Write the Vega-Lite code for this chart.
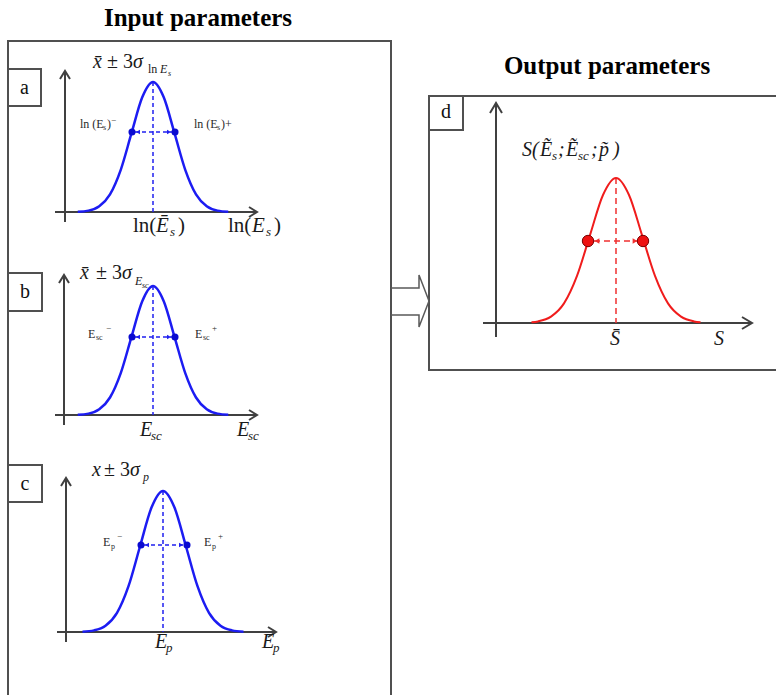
{
  "$schema": "https://vega.github.io/schema/vega-lite/v6.json",
  "width": 777,
  "height": 696,
  "autosize": {"type": "fit", "contains": "padding"},
  "padding": 0,
  "background": "white",
  "config": {"view": {"stroke": null}},
  "datasets": {
    "frames": [
      {"id": "outer", "k": 1, "x": 8, "y": 695}, {"id": "outer", "k": 2, "x": 8, "y": 41}, {"id": "outer", "k": 3, "x": 391, "y": 41}, {"id": "outer", "k": 4, "x": 391, "y": 695},
      {"id": "d", "k": 1, "x": 776, "y": 96}, {"id": "d", "k": 2, "x": 429, "y": 96}, {"id": "d", "k": 3, "x": 429, "y": 370}, {"id": "d", "k": 4, "x": 776, "y": 370}
    ],
    "boxes": [
      {"id": "la", "x": 8, "x2": 41, "y": 69, "y2": 106},
      {"id": "lb", "x": 8, "x2": 42, "y": 273, "y2": 311},
      {"id": "lc", "x": 8, "x2": 42, "y": 465, "y2": 502},
      {"id": "ld", "x": 429, "x2": 463, "y": 96, "y2": 130}
    ],
    "axes": [
      {"x": 65, "x2": 65, "y": 71, "y2": 222},
      {"x": 55, "x2": 257, "y": 212, "y2": 212},
      {"x": 64, "x2": 64, "y": 275, "y2": 425},
      {"x": 55, "x2": 257, "y": 415, "y2": 415},
      {"x": 66, "x2": 66, "y": 478, "y2": 642},
      {"x": 57, "x2": 276, "y": 632, "y2": 632},
      {"x": 496, "x2": 496, "y": 103, "y2": 337},
      {"x": 483, "x2": 752, "y": 323, "y2": 323}
    ],
    "heads": [
      {"id": "ay", "k": 1, "x": 60, "y": 79}, {"id": "ay", "k": 2, "x": 65, "y": 71}, {"id": "ay", "k": 3, "x": 70, "y": 79},
      {"id": "ax", "k": 1, "x": 249, "y": 207}, {"id": "ax", "k": 2, "x": 257, "y": 212}, {"id": "ax", "k": 3, "x": 249, "y": 217},
      {"id": "by", "k": 1, "x": 59, "y": 283}, {"id": "by", "k": 2, "x": 64, "y": 275}, {"id": "by", "k": 3, "x": 69, "y": 283},
      {"id": "bx", "k": 1, "x": 249, "y": 410}, {"id": "bx", "k": 2, "x": 257, "y": 415}, {"id": "bx", "k": 3, "x": 249, "y": 420},
      {"id": "cy", "k": 1, "x": 61, "y": 486}, {"id": "cy", "k": 2, "x": 66, "y": 478}, {"id": "cy", "k": 3, "x": 71, "y": 486},
      {"id": "cx", "k": 1, "x": 268, "y": 627}, {"id": "cx", "k": 2, "x": 276, "y": 632}, {"id": "cx", "k": 3, "x": 268, "y": 637},
      {"id": "dy", "k": 1, "x": 490, "y": 113}, {"id": "dy", "k": 2, "x": 496, "y": 103}, {"id": "dy", "k": 3, "x": 502, "y": 113},
      {"id": "dx", "k": 1, "x": 742, "y": 317}, {"id": "dx", "k": 2, "x": 752, "y": 323}, {"id": "dx", "k": 3, "x": 742, "y": 329}
    ],
    "block": [
      {"k": 1, "x": 391, "y": 288}, {"k": 2, "x": 419, "y": 288}, {"k": 3, "x": 419, "y": 275},
      {"k": 4, "x": 429, "y": 301}, {"k": 5, "x": 419, "y": 327}, {"k": 6, "x": 419, "y": 315},
      {"k": 7, "x": 391, "y": 315}
    ],
    "bluecurves": [
      {"c": "a", "x": 77.75, "y": 211.7}, {"c": "a", "x": 88.5, "y": 210.6}, {"c": "a", "x": 99.25, "y": 206.3}, {"c": "a", "x": 110, "y": 194.4}, {"c": "a", "x": 120.75, "y": 169.8}, {"c": "a", "x": 131.5, "y": 133.2}, {"c": "a", "x": 142.25, "y": 97.3}, {"c": "a", "x": 153, "y": 82}, {"c": "a", "x": 163.75, "y": 97.3}, {"c": "a", "x": 174.5, "y": 133.2}, {"c": "a", "x": 185.25, "y": 169.8}, {"c": "a", "x": 196, "y": 194.4}, {"c": "a", "x": 206.75, "y": 206.3}, {"c": "a", "x": 217.5, "y": 210.6}, {"c": "a", "x": 228.25, "y": 211.7},
      {"c": "b", "x": 77.75, "y": 414.7}, {"c": "b", "x": 88.5, "y": 413.6}, {"c": "b", "x": 99.25, "y": 409.3}, {"c": "b", "x": 110, "y": 397.5}, {"c": "b", "x": 120.75, "y": 373.1}, {"c": "b", "x": 131.5, "y": 336.8}, {"c": "b", "x": 142.25, "y": 301.2}, {"c": "b", "x": 153, "y": 286}, {"c": "b", "x": 163.75, "y": 301.2}, {"c": "b", "x": 174.5, "y": 336.8}, {"c": "b", "x": 185.25, "y": 373.1}, {"c": "b", "x": 196, "y": 397.5}, {"c": "b", "x": 206.75, "y": 409.3}, {"c": "b", "x": 217.5, "y": 413.6}, {"c": "b", "x": 228.25, "y": 414.7},
      {"c": "c", "x": 82.5, "y": 631.7}, {"c": "c", "x": 94, "y": 630.4}, {"c": "c", "x": 105.5, "y": 625.8}, {"c": "c", "x": 117, "y": 612.9}, {"c": "c", "x": 128.5, "y": 586.2}, {"c": "c", "x": 140, "y": 546.5}, {"c": "c", "x": 151.5, "y": 507.6}, {"c": "c", "x": 163, "y": 491}, {"c": "c", "x": 174.5, "y": 507.6}, {"c": "c", "x": 186, "y": 546.5}, {"c": "c", "x": 197.5, "y": 586.2}, {"c": "c", "x": 209, "y": 612.9}, {"c": "c", "x": 220.5, "y": 625.8}, {"c": "c", "x": 232, "y": 630.4}, {"c": "c", "x": 243.5, "y": 631.7}
    ],
    "redcurve": [
      {"x": 531.5, "y": 322.3}, {"x": 538, "y": 321.4}, {"x": 551, "y": 316.6}, {"x": 564, "y": 303.4}, {"x": 577, "y": 275.9}, {"x": 590, "y": 235.1}, {"x": 603, "y": 195}, {"x": 616, "y": 178}, {"x": 629, "y": 195}, {"x": 642, "y": 235.1}, {"x": 655, "y": 275.9}, {"x": 668, "y": 303.4}, {"x": 681, "y": 316.6}, {"x": 694, "y": 321.4}, {"x": 700.5, "y": 322.3}
    ],
    "bluedash": [
      {"x": 153, "x2": 153, "y": 82, "y2": 212},
      {"x": 153, "x2": 153, "y": 286, "y2": 415},
      {"x": 163, "x2": 163, "y": 491, "y2": 632},
      {"x": 135, "x2": 172, "y": 132, "y2": 132},
      {"x": 135, "x2": 172, "y": 337, "y2": 337},
      {"x": 144, "x2": 184, "y": 545, "y2": 545}
    ],
    "reddash": [
      {"x": 616, "x2": 616, "y": 178, "y2": 323},
      {"x": 594, "x2": 638, "y": 241, "y2": 241}
    ],
    "bluetri": [
      {"d": "l", "x": 138, "y": 132}, {"d": "r", "x": 169, "y": 132},
      {"d": "l", "x": 138, "y": 337}, {"d": "r", "x": 169, "y": 337},
      {"d": "l", "x": 147, "y": 545}, {"d": "r", "x": 181, "y": 545}
    ],
    "redtri": [
      {"d": "l", "x": 597, "y": 241}, {"d": "r", "x": 635, "y": 241}
    ],
    "bluedots": [
      {"x": 132, "y": 132}, {"x": 175, "y": 132},
      {"x": 132, "y": 337}, {"x": 175, "y": 337},
      {"x": 141, "y": 545}, {"x": 187, "y": 545}
    ],
    "reddots": [
      {"x": 588, "y": 241}, {"x": 643, "y": 241}
    ],
    "titles": [
      {"t": "Input parameters", "x": 198, "y": 18},
      {"t": "Output parameters", "x": 607, "y": 66}
    ],
    "letters": [
      {"t": "a", "x": 24.5, "y": 88},
      {"t": "b", "x": 25, "y": 292},
      {"t": "c", "x": 25, "y": 484},
      {"t": "d", "x": 446, "y": 112}
    ],
    "up21": [
      {"t": "ln(", "x": 133, "y": 232}, {"t": ")", "x": 178, "y": 232},
      {"t": "ln(", "x": 228, "y": 232}, {"t": ")", "x": 274, "y": 232}
    ],
    "up20": [
      {"t": "± 3", "x": 107, "y": 68},
      {"t": "± 3", "x": 96, "y": 279},
      {"t": "± 3", "x": 104, "y": 476}
    ],
    "it20": [
      {"t": "x̄", "x": 93, "y": 68}, {"t": "σ", "x": 133, "y": 68},
      {"t": "x̄", "x": 80, "y": 279}, {"t": "σ", "x": 122, "y": 279},
      {"t": "x", "x": 92, "y": 476}, {"t": "σ", "x": 130, "y": 476},
      {"t": "E", "x": 140, "y": 436}, {"t": "E", "x": 237, "y": 436},
      {"t": "E", "x": 155, "y": 648}, {"t": "E", "x": 262, "y": 648},
      {"t": "S̄", "x": 610, "y": 345}, {"t": "S", "x": 714, "y": 345},
      {"t": "S(", "x": 522, "y": 156}, {"t": "Ẽ", "x": 540, "y": 156},
      {"t": ";", "x": 558, "y": 156}, {"t": "Ẽ", "x": 566, "y": 156},
      {"t": ";", "x": 591, "y": 156}, {"t": "p̃", "x": 599, "y": 156},
      {"t": ")", "x": 613, "y": 156}
    ],
    "it21": [
      {"t": "Ē", "x": 156, "y": 232}, {"t": "E", "x": 252, "y": 232}
    ],
    "sub13": [
      {"t": "s", "x": 170, "y": 236}, {"t": "s", "x": 266, "y": 236},
      {"t": "sc", "x": 151, "y": 440}, {"t": "sc", "x": 248, "y": 440},
      {"t": "p", "x": 166, "y": 652}, {"t": "p", "x": 273, "y": 652},
      {"t": "s", "x": 552, "y": 160}, {"t": "sc", "x": 578, "y": 160}
    ],
    "up12": [
      {"t": "ln", "x": 148, "y": 73}
    ],
    "it12": [
      {"t": "E", "x": 160, "y": 73},
      {"t": "E", "x": 135, "y": 285},
      {"t": "p", "x": 143, "y": 481}
    ],
    "tiny8": [
      {"t": "s", "x": 168, "y": 76},
      {"t": "sc", "x": 142, "y": 288}
    ],
    "dotlab": [
      {"t": "ln (E", "x": 80, "y": 128}, {"t": ")", "x": 107, "y": 128},
      {"t": "ln (E", "x": 194, "y": 128}, {"t": ")+", "x": 221, "y": 128},
      {"t": "E", "x": 88, "y": 338}, {"t": "E", "x": 195, "y": 338},
      {"t": "E", "x": 103, "y": 546}, {"t": "E", "x": 204, "y": 546}
    ],
    "dotsub": [
      {"t": "s", "x": 103, "y": 130}, {"t": "s", "x": 217, "y": 130},
      {"t": "sc", "x": 96, "y": 340}, {"t": "sc", "x": 203, "y": 340},
      {"t": "p", "x": 111, "y": 549}, {"t": "p", "x": 212, "y": 549}
    ],
    "dotsup": [
      {"t": "−", "x": 111, "y": 123},
      {"t": "−", "x": 106, "y": 331}, {"t": "+", "x": 212, "y": 331},
      {"t": "−", "x": 117, "y": 539}, {"t": "+", "x": 218, "y": 539}
    ]
  },
  "layer": [
    {
      "data": {"name": "frames"},
      "mark": {"type": "line", "stroke": "#505050", "strokeWidth": 2, "strokeJoin": "miter", "clip": true},
      "encoding": {
        "x": {"field": "x", "type": "quantitative", "scale": {"domain": [0, 777], "nice": false, "zero": false}, "axis": null},
        "y": {"field": "y", "type": "quantitative", "scale": {"domain": [0, 696], "nice": false, "zero": false, "reverse": true}, "axis": null},
        "detail": {"field": "id", "type": "nominal"},
        "order": {"field": "k", "type": "quantitative"}
      }
    },
    {
      "data": {"name": "boxes"},
      "mark": {"type": "rect", "fill": "white", "stroke": "#505050", "strokeWidth": 2},
      "encoding": {
        "x": {"field": "x", "type": "quantitative", "scale": {"domain": [0, 777], "nice": false, "zero": false}, "axis": null},
        "x2": {"field": "x2"},
        "y": {"field": "y", "type": "quantitative", "scale": {"domain": [0, 696], "nice": false, "zero": false, "reverse": true}, "axis": null},
        "y2": {"field": "y2"}
      }
    },
    {
      "data": {"name": "block"},
      "mark": {"type": "line", "stroke": "#5a5a5a", "strokeWidth": 1.5},
      "encoding": {
        "x": {"field": "x", "type": "quantitative", "scale": {"domain": [0, 777], "nice": false, "zero": false}, "axis": null},
        "y": {"field": "y", "type": "quantitative", "scale": {"domain": [0, 696], "nice": false, "zero": false, "reverse": true}, "axis": null},
        "order": {"field": "k", "type": "quantitative"}
      }
    },
    {
      "data": {"name": "axes"},
      "mark": {"type": "rule", "stroke": "#404040", "strokeWidth": 2},
      "encoding": {
        "x": {"field": "x", "type": "quantitative", "scale": {"domain": [0, 777], "nice": false, "zero": false}, "axis": null},
        "x2": {"field": "x2"},
        "y": {"field": "y", "type": "quantitative", "scale": {"domain": [0, 696], "nice": false, "zero": false, "reverse": true}, "axis": null},
        "y2": {"field": "y2"}
      }
    },
    {
      "data": {"name": "heads"},
      "mark": {"type": "line", "stroke": "#404040", "strokeWidth": 2, "strokeJoin": "miter"},
      "encoding": {
        "x": {"field": "x", "type": "quantitative", "scale": {"domain": [0, 777], "nice": false, "zero": false}, "axis": null},
        "y": {"field": "y", "type": "quantitative", "scale": {"domain": [0, 696], "nice": false, "zero": false, "reverse": true}, "axis": null},
        "detail": {"field": "id", "type": "nominal"},
        "order": {"field": "k", "type": "quantitative"}
      }
    },
    {
      "data": {"name": "bluedash"},
      "mark": {"type": "rule", "stroke": "#2020f0", "strokeWidth": 1.5, "strokeDash": [4, 3]},
      "encoding": {
        "x": {"field": "x", "type": "quantitative", "scale": {"domain": [0, 777], "nice": false, "zero": false}, "axis": null},
        "x2": {"field": "x2"},
        "y": {"field": "y", "type": "quantitative", "scale": {"domain": [0, 696], "nice": false, "zero": false, "reverse": true}, "axis": null},
        "y2": {"field": "y2"}
      }
    },
    {
      "data": {"name": "reddash"},
      "mark": {"type": "rule", "stroke": "#f03030", "strokeWidth": 1.5, "strokeDash": [6, 4]},
      "encoding": {
        "x": {"field": "x", "type": "quantitative", "scale": {"domain": [0, 777], "nice": false, "zero": false}, "axis": null},
        "x2": {"field": "x2"},
        "y": {"field": "y", "type": "quantitative", "scale": {"domain": [0, 696], "nice": false, "zero": false, "reverse": true}, "axis": null},
        "y2": {"field": "y2"}
      }
    },
    {
      "data": {"name": "bluecurves"},
      "mark": {"type": "line", "stroke": "#1c1cf2", "strokeWidth": 2.5, "interpolate": "monotone"},
      "encoding": {
        "x": {"field": "x", "type": "quantitative", "scale": {"domain": [0, 777], "nice": false, "zero": false}, "axis": null},
        "y": {"field": "y", "type": "quantitative", "scale": {"domain": [0, 696], "nice": false, "zero": false, "reverse": true}, "axis": null},
        "detail": {"field": "c", "type": "nominal"}
      }
    },
    {
      "data": {"name": "redcurve"},
      "mark": {"type": "line", "stroke": "#f01c1c", "strokeWidth": 2, "interpolate": "monotone"},
      "encoding": {
        "x": {"field": "x", "type": "quantitative", "scale": {"domain": [0, 777], "nice": false, "zero": false}, "axis": null},
        "y": {"field": "y", "type": "quantitative", "scale": {"domain": [0, 696], "nice": false, "zero": false, "reverse": true}, "axis": null}
      }
    },
    {
      "data": {"name": "bluetri"},
      "mark": {"type": "point", "filled": true, "color": "#2020f0", "size": 22, "opacity": 1},
      "encoding": {
        "x": {"field": "x", "type": "quantitative", "scale": {"domain": [0, 777], "nice": false, "zero": false}, "axis": null},
        "y": {"field": "y", "type": "quantitative", "scale": {"domain": [0, 696], "nice": false, "zero": false, "reverse": true}, "axis": null},
        "shape": {"field": "d", "type": "nominal", "scale": {"domain": ["l", "r"], "range": ["triangle-left", "triangle-right"]}, "legend": null}
      }
    },
    {
      "data": {"name": "redtri"},
      "mark": {"type": "point", "filled": true, "color": "#f03030", "size": 30, "opacity": 1},
      "encoding": {
        "x": {"field": "x", "type": "quantitative", "scale": {"domain": [0, 777], "nice": false, "zero": false}, "axis": null},
        "y": {"field": "y", "type": "quantitative", "scale": {"domain": [0, 696], "nice": false, "zero": false, "reverse": true}, "axis": null},
        "shape": {"field": "d", "type": "nominal", "scale": {"domain": ["l", "r"], "range": ["triangle-left", "triangle-right"]}, "legend": null}
      }
    },
    {
      "data": {"name": "bluedots"},
      "mark": {"type": "circle", "color": "#0a0ad0", "size": 50, "opacity": 1},
      "encoding": {
        "x": {"field": "x", "type": "quantitative", "scale": {"domain": [0, 777], "nice": false, "zero": false}, "axis": null},
        "y": {"field": "y", "type": "quantitative", "scale": {"domain": [0, 696], "nice": false, "zero": false, "reverse": true}, "axis": null}
      }
    },
    {
      "data": {"name": "reddots"},
      "mark": {"type": "point", "filled": true, "shape": "circle", "fill": "#ee1111", "stroke": "#7a0000", "strokeWidth": 1, "size": 130, "opacity": 1},
      "encoding": {
        "x": {"field": "x", "type": "quantitative", "scale": {"domain": [0, 777], "nice": false, "zero": false}, "axis": null},
        "y": {"field": "y", "type": "quantitative", "scale": {"domain": [0, 696], "nice": false, "zero": false, "reverse": true}, "axis": null}
      }
    },
    {
      "data": {"name": "titles"},
      "mark": {"type": "text", "font": "Liberation Serif", "fontSize": 25, "fontWeight": "bold", "align": "center", "baseline": "middle", "color": "#000000"},
      "encoding": {
        "x": {"field": "x", "type": "quantitative", "scale": {"domain": [0, 777], "nice": false, "zero": false}, "axis": null},
        "y": {"field": "y", "type": "quantitative", "scale": {"domain": [0, 696], "nice": false, "zero": false, "reverse": true}, "axis": null},
        "text": {"field": "t", "type": "nominal"}
      }
    },
    {
      "data": {"name": "letters"},
      "mark": {"type": "text", "font": "Liberation Serif", "fontSize": 20, "align": "center", "baseline": "middle", "color": "#111111"},
      "encoding": {
        "x": {"field": "x", "type": "quantitative", "scale": {"domain": [0, 777], "nice": false, "zero": false}, "axis": null},
        "y": {"field": "y", "type": "quantitative", "scale": {"domain": [0, 696], "nice": false, "zero": false, "reverse": true}, "axis": null},
        "text": {"field": "t", "type": "nominal"}
      }
    },
    {
      "data": {"name": "up21"},
      "mark": {"type": "text", "font": "Liberation Serif", "fontSize": 21, "align": "left", "baseline": "alphabetic", "color": "#1a1a1a"},
      "encoding": {
        "x": {"field": "x", "type": "quantitative", "scale": {"domain": [0, 777], "nice": false, "zero": false}, "axis": null},
        "y": {"field": "y", "type": "quantitative", "scale": {"domain": [0, 696], "nice": false, "zero": false, "reverse": true}, "axis": null},
        "text": {"field": "t", "type": "nominal"}
      }
    },
    {
      "data": {"name": "up20"},
      "mark": {"type": "text", "font": "Liberation Serif", "fontSize": 20, "align": "left", "baseline": "alphabetic", "color": "#1a1a1a"},
      "encoding": {
        "x": {"field": "x", "type": "quantitative", "scale": {"domain": [0, 777], "nice": false, "zero": false}, "axis": null},
        "y": {"field": "y", "type": "quantitative", "scale": {"domain": [0, 696], "nice": false, "zero": false, "reverse": true}, "axis": null},
        "text": {"field": "t", "type": "nominal"}
      }
    },
    {
      "data": {"name": "it20"},
      "mark": {"type": "text", "font": "Liberation Serif", "fontSize": 20, "fontStyle": "italic", "align": "left", "baseline": "alphabetic", "color": "#1a1a1a"},
      "encoding": {
        "x": {"field": "x", "type": "quantitative", "scale": {"domain": [0, 777], "nice": false, "zero": false}, "axis": null},
        "y": {"field": "y", "type": "quantitative", "scale": {"domain": [0, 696], "nice": false, "zero": false, "reverse": true}, "axis": null},
        "text": {"field": "t", "type": "nominal"}
      }
    },
    {
      "data": {"name": "it21"},
      "mark": {"type": "text", "font": "Liberation Serif", "fontSize": 21, "fontStyle": "italic", "align": "left", "baseline": "alphabetic", "color": "#1a1a1a"},
      "encoding": {
        "x": {"field": "x", "type": "quantitative", "scale": {"domain": [0, 777], "nice": false, "zero": false}, "axis": null},
        "y": {"field": "y", "type": "quantitative", "scale": {"domain": [0, 696], "nice": false, "zero": false, "reverse": true}, "axis": null},
        "text": {"field": "t", "type": "nominal"}
      }
    },
    {
      "data": {"name": "sub13"},
      "mark": {"type": "text", "font": "Liberation Serif", "fontSize": 13, "fontStyle": "italic", "align": "left", "baseline": "alphabetic", "color": "#1a1a1a"},
      "encoding": {
        "x": {"field": "x", "type": "quantitative", "scale": {"domain": [0, 777], "nice": false, "zero": false}, "axis": null},
        "y": {"field": "y", "type": "quantitative", "scale": {"domain": [0, 696], "nice": false, "zero": false, "reverse": true}, "axis": null},
        "text": {"field": "t", "type": "nominal"}
      }
    },
    {
      "data": {"name": "up12"},
      "mark": {"type": "text", "font": "Liberation Serif", "fontSize": 12, "align": "left", "baseline": "alphabetic", "color": "#1a1a1a"},
      "encoding": {
        "x": {"field": "x", "type": "quantitative", "scale": {"domain": [0, 777], "nice": false, "zero": false}, "axis": null},
        "y": {"field": "y", "type": "quantitative", "scale": {"domain": [0, 696], "nice": false, "zero": false, "reverse": true}, "axis": null},
        "text": {"field": "t", "type": "nominal"}
      }
    },
    {
      "data": {"name": "it12"},
      "mark": {"type": "text", "font": "Liberation Serif", "fontSize": 12, "fontStyle": "italic", "align": "left", "baseline": "alphabetic", "color": "#1a1a1a"},
      "encoding": {
        "x": {"field": "x", "type": "quantitative", "scale": {"domain": [0, 777], "nice": false, "zero": false}, "axis": null},
        "y": {"field": "y", "type": "quantitative", "scale": {"domain": [0, 696], "nice": false, "zero": false, "reverse": true}, "axis": null},
        "text": {"field": "t", "type": "nominal"}
      }
    },
    {
      "data": {"name": "tiny8"},
      "mark": {"type": "text", "font": "Liberation Serif", "fontSize": 8, "fontStyle": "italic", "align": "left", "baseline": "alphabetic", "color": "#1a1a1a"},
      "encoding": {
        "x": {"field": "x", "type": "quantitative", "scale": {"domain": [0, 777], "nice": false, "zero": false}, "axis": null},
        "y": {"field": "y", "type": "quantitative", "scale": {"domain": [0, 696], "nice": false, "zero": false, "reverse": true}, "axis": null},
        "text": {"field": "t", "type": "nominal"}
      }
    },
    {
      "data": {"name": "dotlab"},
      "mark": {"type": "text", "font": "Liberation Serif", "fontSize": 12, "align": "left", "baseline": "alphabetic", "color": "#2a2a2a"},
      "encoding": {
        "x": {"field": "x", "type": "quantitative", "scale": {"domain": [0, 777], "nice": false, "zero": false}, "axis": null},
        "y": {"field": "y", "type": "quantitative", "scale": {"domain": [0, 696], "nice": false, "zero": false, "reverse": true}, "axis": null},
        "text": {"field": "t", "type": "nominal"}
      }
    },
    {
      "data": {"name": "dotsub"},
      "mark": {"type": "text", "font": "Liberation Serif", "fontSize": 8, "align": "left", "baseline": "alphabetic", "color": "#2a2a2a"},
      "encoding": {
        "x": {"field": "x", "type": "quantitative", "scale": {"domain": [0, 777], "nice": false, "zero": false}, "axis": null},
        "y": {"field": "y", "type": "quantitative", "scale": {"domain": [0, 696], "nice": false, "zero": false, "reverse": true}, "axis": null},
        "text": {"field": "t", "type": "nominal"}
      }
    },
    {
      "data": {"name": "dotsup"},
      "mark": {"type": "text", "font": "Liberation Serif", "fontSize": 9, "align": "left", "baseline": "alphabetic", "color": "#2a2a2a"},
      "encoding": {
        "x": {"field": "x", "type": "quantitative", "scale": {"domain": [0, 777], "nice": false, "zero": false}, "axis": null},
        "y": {"field": "y", "type": "quantitative", "scale": {"domain": [0, 696], "nice": false, "zero": false, "reverse": true}, "axis": null},
        "text": {"field": "t", "type": "nominal"}
      }
    }
  ]
}
